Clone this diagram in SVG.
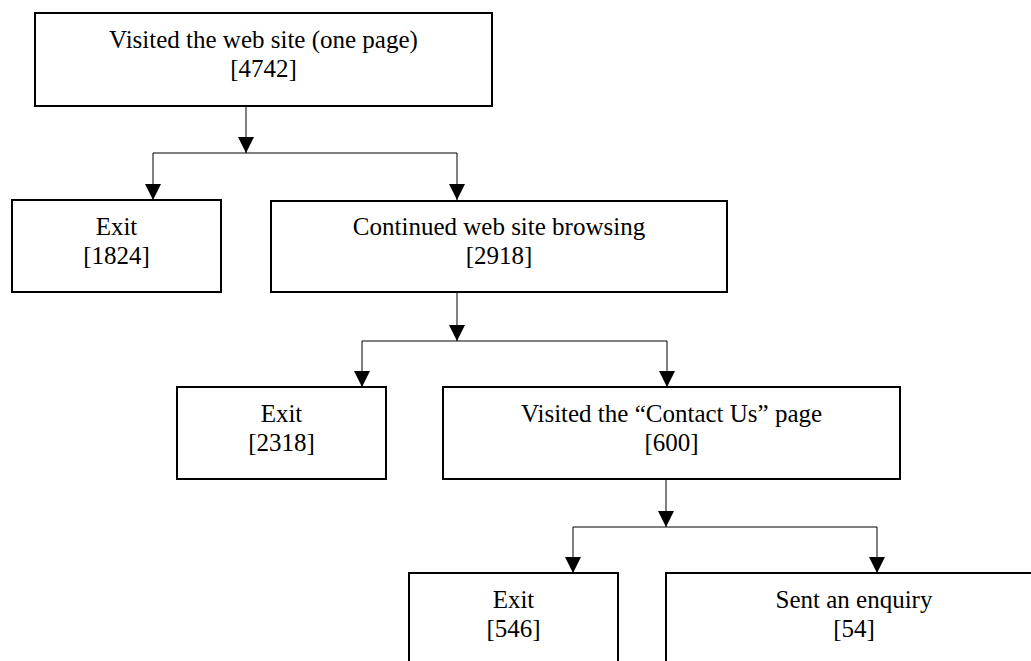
<svg xmlns="http://www.w3.org/2000/svg" width="1031" height="661" viewBox="0 0 1031 661">
  <style>
    .box { fill: #fff; stroke: #000; stroke-width: 2; }
    .lbl { font-family: "Liberation Serif", "Times New Roman", serif; font-size: 25px; fill: #000; text-anchor: middle; }
    .con { fill: none; stroke: #000; stroke-width: 1; }
  </style>
  <defs>
    <marker id="arr" viewBox="0 0 16 16" refX="16" refY="8" markerWidth="16" markerHeight="16" markerUnits="userSpaceOnUse" orient="auto">
      <path d="M0,0 L16,8 L0,16 Z" fill="#000"/>
    </marker>
  </defs>
  <rect width="1031" height="661" fill="#fff"/>

  <g id="connectors">
    <path class="con" d="M246,106 V153" marker-end="url(#arr)"/>
    <path class="con" d="M153,153 H457"/>
    <path class="con" d="M153,153 V200" marker-end="url(#arr)"/>
    <path class="con" d="M457,153 V200" marker-end="url(#arr)"/>

    <path class="con" d="M457,292 V341" marker-end="url(#arr)"/>
    <path class="con" d="M362,341 H667"/>
    <path class="con" d="M362,341 V387" marker-end="url(#arr)"/>
    <path class="con" d="M667,341 V387" marker-end="url(#arr)"/>

    <path class="con" d="M666,479 V527" marker-end="url(#arr)"/>
    <path class="con" d="M573,527 H877"/>
    <path class="con" d="M573,527 V573" marker-end="url(#arr)"/>
    <path class="con" d="M877,527 V573" marker-end="url(#arr)"/>
  </g>

  <g id="visited">
    <rect class="box" x="35" y="13" width="457" height="93"/>
    <text class="lbl" x="263.5" y="48">Visited the web site (one page)</text>
    <text class="lbl" x="263.5" y="77">[4742]</text>
  </g>

  <g id="exit1">
    <rect class="box" x="12" y="200" width="209" height="92"/>
    <text class="lbl" x="116.5" y="235">Exit</text>
    <text class="lbl" x="116.5" y="264">[1824]</text>
  </g>

  <g id="continued">
    <rect class="box" x="271" y="201" width="456" height="91"/>
    <text class="lbl" x="499" y="235">Continued web site browsing</text>
    <text class="lbl" x="499" y="264">[2918]</text>
  </g>

  <g id="exit2">
    <rect class="box" x="177" y="387" width="209" height="92"/>
    <text class="lbl" x="281.5" y="422">Exit</text>
    <text class="lbl" x="281.5" y="451">[2318]</text>
  </g>

  <g id="contact">
    <rect class="box" x="443" y="387" width="457" height="92"/>
    <text class="lbl" x="671.5" y="422">Visited the “Contact Us” page</text>
    <text class="lbl" x="671.5" y="451">[600]</text>
  </g>

  <g id="exit3">
    <rect class="box" x="409" y="573" width="209" height="92"/>
    <text class="lbl" x="513.5" y="608">Exit</text>
    <text class="lbl" x="513.5" y="637">[546]</text>
  </g>

  <g id="enquiry">
    <rect class="box" x="666" y="573" width="376" height="92"/>
    <text class="lbl" x="854" y="608">Sent an enquiry</text>
    <text class="lbl" x="854" y="637">[54]</text>
  </g>
</svg>
